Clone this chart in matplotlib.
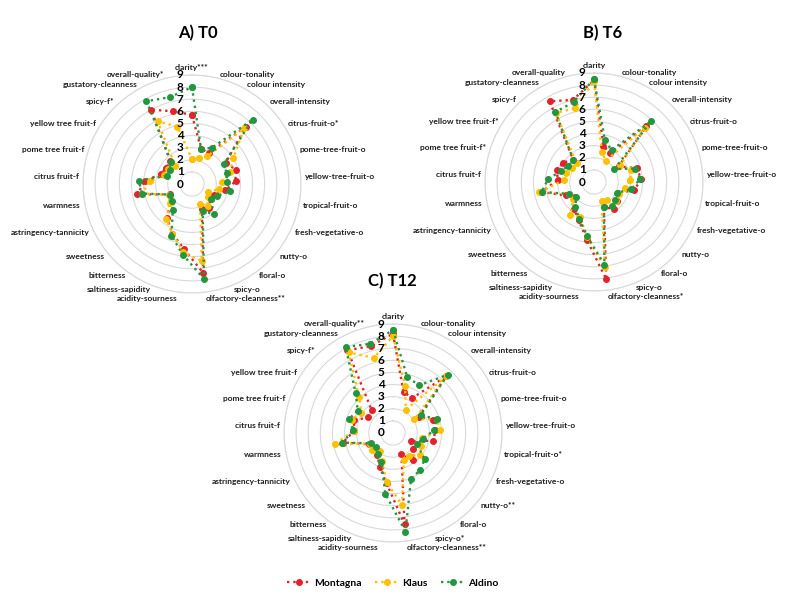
import matplotlib
matplotlib.use("Agg")
import matplotlib.pyplot as plt
import numpy as np

plt.rcParams['font.family'] = ['Lato', 'DejaVu Sans']

# Descriptores (en sentido horario desde arriba)
categorias = [
    "clarity", "colour-tonality", "colour intensity", "overall-intensity",
    "citrus-fruit-o", "pome-tree-fruit-o", "yellow-tree-fruit-o", "tropical-fruit-o",
    "fresh-vegetative-o", "nutty-o", "floral-o", "spicy-o", "olfactory-cleanness",
    "acidity-sourness", "saltiness-sapidity", "bitterness", "sweetness",
    "astringency-tannicity", "warmness", "citrus fruit-f", "pome tree fruit-f",
    "yellow tree fruit-f", "spicy-f", "gustatory-cleanness", "overall-quality",
]

# Significancia de cada panel
estrellas_t0 = {"clarity": "***", "citrus-fruit-o": "*", "olfactory-cleanness": "**",
                "spicy-f": "*", "overall-quality": "*"}
estrellas_t6 = {"olfactory-cleanness": "*", "pome tree fruit-f": "*",
                "yellow tree fruit-f": "*"}
estrellas_t12 = {"tropical-fruit-o": "*", "nutty-o": "**", "spicy-o": "*",
                 "olfactory-cleanness": "**", "spicy-f": "*", "overall-quality": "**"}

series = ["Montagna", "Klaus", "Aldino"]
colores = ["#e3232b", "#ffc000", "#22973f"]

# T0
montagna_t0 = [5.7, 3.0, 2.9, 6.5, 3.3, 3.8, 3.6, 2.8, 2.05, 2.0, 2.4, 2.2, 7.4,
               5.4, 4.4, 3.5, 2.3, 2.0, 4.6, 3.9, 2.7, 2.5, 2.65, 7.0, 6.2]
klaus_t0 = [2.05, 2.2, 2.6, 6.3, 4.05, 3.3, 2.5, 2.3, 1.5, 1.7, 2.2, 1.8, 6.4,
            5.7, 4.4, 3.6, 2.4, 2.1, 4.2, 3.5, 2.4, 2.3, 2.0, 5.9, 4.9]
aldino_t0 = [8.0, 3.0, 3.4, 7.3, 3.15, 3.0, 2.9, 3.2, 2.3, 2.0, 3.1, 2.4, 7.9,
             5.9, 4.6, 2.7, 2.15, 2.05, 4.2, 4.4, 2.2, 2.2, 2.5, 7.8, 7.4]

# T6
montagna_t6 = [8.4, 3.1, 2.7, 6.3, 2.4, 3.7, 3.9, 3.4, 2.2, 2.5, 2.8, 2.2, 8.1,
               4.8, 3.4, 2.8, 2.0, 2.6, 4.4, 3.0, 3.25, 3.0, 2.5, 7.6, 7.0]
klaus_t6 = [8.3, 2.6, 2.0, 6.1, 2.55, 3.25, 3.0, 2.6, 2.3, 2.4, 1.8, 1.7, 7.1,
            4.6, 3.1, 3.4, 2.2, 2.3, 4.6, 2.5, 2.4, 2.15, 2.1, 6.5, 6.3]
aldino_t6 = [8.5, 3.6, 3.0, 6.9, 2.0, 3.6, 3.8, 3.15, 2.1, 2.3, 2.5, 2.2, 6.9,
             4.5, 3.3, 2.6, 1.9, 2.3, 4.4, 3.8, 2.9, 2.5, 2.5, 6.6, 6.8]

# T12
montagna_t12 = [8.2, 3.5, 3.3, 6.4, 2.5, 3.5, 3.5, 3.4, 1.6, 2.1, 2.8, 1.9, 7.6,
                4.2, 3.0, 2.2, 1.9, 2.2, 4.2, 3.2, 3.4, 2.4, 2.55, 7.8, 7.4]
klaus_t12 = [8.0, 4.0, 2.2, 6.4, 2.1, 3.8, 3.9, 2.4, 2.6, 2.9, 2.3, 2.4, 6.0,
             4.1, 2.5, 1.8, 2.2, 2.1, 4.9, 3.2, 3.6, 3.1, 4.1, 7.6, 6.4]
aldino_t12 = [8.5, 4.75, 4.5, 6.6, 2.7, 3.8, 3.4, 2.5, 2.2, 3.4, 3.8, 4.05, 8.2,
              5.05, 2.6, 2.15, 1.8, 2.0, 4.25, 3.3, 3.8, 3.45, 4.5, 8.1, 7.6]


def dibujar_radar(fig, rect, titulo, titulo_xy, estrellas, datos):
    ax = fig.add_axes(rect, projection="polar")
    ax.set_theta_zero_location("N")
    ax.set_theta_direction(-1)
    ang = np.arange(len(categorias)) * 2 * np.pi / len(categorias)
    ang_c = np.append(ang, ang[0])

    for vals, col in zip(datos, colores):
        ax.plot(ang_c, np.append(vals, vals[0]), linestyle=":", color=col,
                linewidth=1.7, marker="o", markersize=4, clip_on=False)

    ax.set_ylim(0, 9)
    ax.set_yticks(range(1, 10))
    ax.set_yticklabels([])
    ax.set_xticks([])
    ax.yaxis.grid(True, color="#d9d9d9", linewidth=0.8)
    ax.spines["polar"].set_color("#d9d9d9")
    ax.spines["polar"].set_linewidth(0.8)
    ax.set_facecolor("none")

    # numeros del eje radial
    for v in range(10):
        ax.annotate(str(v), xy=(0, v), xytext=(-8.5, 0), textcoords="offset points",
                    ha="center", va="center", fontsize=8.5, fontweight="bold",
                    annotation_clip=False)

    # etiquetas de los descriptores
    for i, cat in enumerate(categorias):
        s, c = np.sin(ang[i]), np.cos(ang[i])
        if s > 0.01:
            ha = "left"
        elif s < -0.01:
            ha = "right"
        else:
            ha = "center"
        va = "bottom" if i == 0 else "center"
        dy = 3 * c
        if c < -0.95:
            dy -= 1.5
        ax.annotate(cat + estrellas.get(cat, ""), xy=(ang[i], 9), xytext=(3 * s, dy),
                    textcoords="offset points", ha=ha, va=va, fontsize=6,
                    fontweight="bold", color="#1f1f1f", annotation_clip=False)

    fig.text(titulo_xy[0], titulo_xy[1], titulo, ha="center", va="center",
             fontsize=12, fontweight="bold")
    return ax


fig = plt.figure(figsize=(7.87, 5.98), dpi=100)
W, H = 787, 598
R = 109


def rect_de(cx, cy):
    return [(cx - R) / W, 1 - (cy + R) / H, 2 * R / W, 2 * R / H]


dibujar_radar(fig, rect_de(192, 184), "A) T0", (198 / W, 1 - 33 / H), estrellas_t0,
              [montagna_t0, klaus_t0, aldino_t0])
dibujar_radar(fig, rect_de(594, 182), "B) T6", (603 / W, 1 - 33 / H), estrellas_t6,
              [montagna_t6, klaus_t6, aldino_t6])
dibujar_radar(fig, rect_de(393, 433), "C) T12", (392 / W, 1 - 281 / H), estrellas_t12,
              [montagna_t12, klaus_t12, aldino_t12])

handles = [plt.Line2D([], [], linestyle=":", color=c, linewidth=1.7, marker="o",
                      markersize=4) for c in colores]
fig.legend(handles, series, loc="center", bbox_to_anchor=(393 / W, 1 - 583 / H),
           ncol=3, frameon=False, prop={"size": 7.5, "weight": "bold"},
           handlelength=2.3, columnspacing=1.3, handletextpad=0.3)

fig.savefig("out.png", dpi=100)
